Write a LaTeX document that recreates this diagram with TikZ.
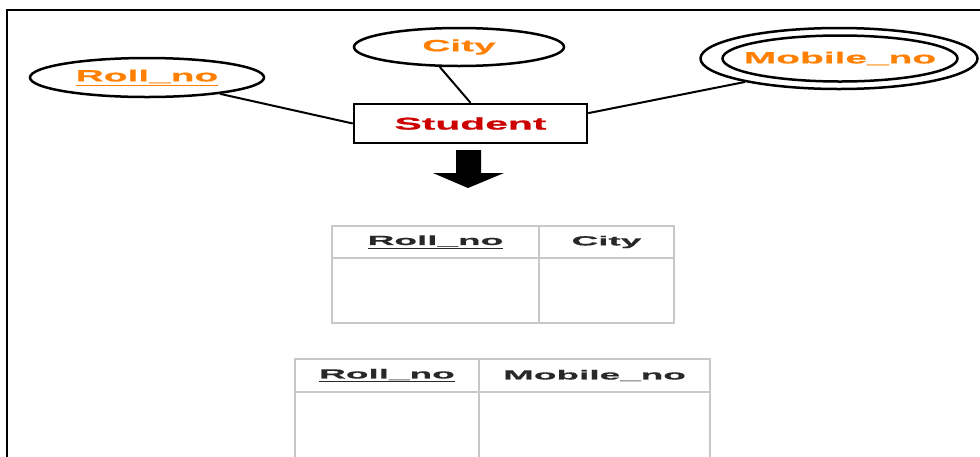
\documentclass[tikz,border=0pt]{standalone}
\usepackage{fontspec}
\usetikzlibrary{shapes.geometric,calc}
\newfontfamily\erfont[FakeStretch=2.4,FakeBold=0.8]{Liberation Sans}
\newfontfamily\cellfont[FakeStretch=2.8,FakeBold=0.6]{Liberation Sans}
\definecolor{attrorange}{RGB}{255,128,0}
\definecolor{entityred}{RGB}{204,0,0}
\definecolor{cellgray}{RGB}{200,200,200}
\definecolor{headgray}{RGB}{40,40,40}

\begin{document}
\begin{tikzpicture}[x=1pt, y=-1pt, line width=2.5pt,
  attr/.style={draw, ellipse, inner sep=0pt, text=attrorange,
    font=\erfont\bfseries\fontsize{16.2}{16}\selectfont},
  entity/.style={draw, rectangle, inner sep=0pt, text=entityred,
    minimum width=233pt, minimum height=39pt,
    font=\erfont\bfseries\fontsize{17}{17}\selectfont},
  cell/.style={draw=cellgray, rectangle, inner sep=0pt, text=headgray,
    line width=2pt, font=\cellfont\bfseries\fontsize{13.2}{13}\selectfont}]
\clip (0,0) rectangle (980,456);
\useasboundingbox (0,0) rectangle (980,456);
\draw[line width=2.6pt] (7,10) rectangle (1000,480);

% ER part
\node[attr, minimum width=234pt, minimum height=39pt] (rollno) at (147,77.5) {\underline{Roll\_no}};
\node[attr, minimum width=210pt, minimum height=38pt] (city) at (459,47) {City};
\node[attr, minimum width=277pt, minimum height=61pt] (mobileout) at (839,58.5) {};
\node[attr, minimum width=235pt, minimum height=46pt] (mobile) at (840,58.5) {\makebox[0pt]{Mobile\_no}};
\node[entity] (student) at (470.5,123.5) {Student};

\draw[line width=2pt] (rollno) -- (student.west);
\draw[line width=2pt] (city.-134) -- (student.north);
\draw[line width=2pt] (mobileout.-166) -- ($(student.east)!0.5!(student.north east)$);

% conversion arrow
\fill (456,150) -- (481,150) -- (481,173) -- (504,173) -- (468,188)
  -- (433,173) -- (456,173) -- cycle;

% relation tables
\node[cell, minimum width=207pt, minimum height=32pt] (t1roll) at (435.5,242) {\underline{Roll\_no}};
\node[cell, minimum width=135pt, minimum height=32pt] (t1city) at (606.5,242) {City};
\node[cell, minimum width=207pt, minimum height=65pt] (t1rollv) at (435.5,290.5) {};
\node[cell, minimum width=135pt, minimum height=65pt] (t1cityv) at (606.5,290.5) {};

\node[cell, minimum width=184pt, minimum height=33pt] (t2roll) at (387,375.5) {\underline{Roll\_no}};
\node[cell, minimum width=231pt, minimum height=33pt] (t2mobile) at (594.5,375.5) {Mobile\_no};
\node[cell, minimum width=184pt, minimum height=80pt] (t2rollv) at (387,432) {};
\node[cell, minimum width=231pt, minimum height=80pt] (t2mobilev) at (594.5,432) {};
\end{tikzpicture}
\end{document}
